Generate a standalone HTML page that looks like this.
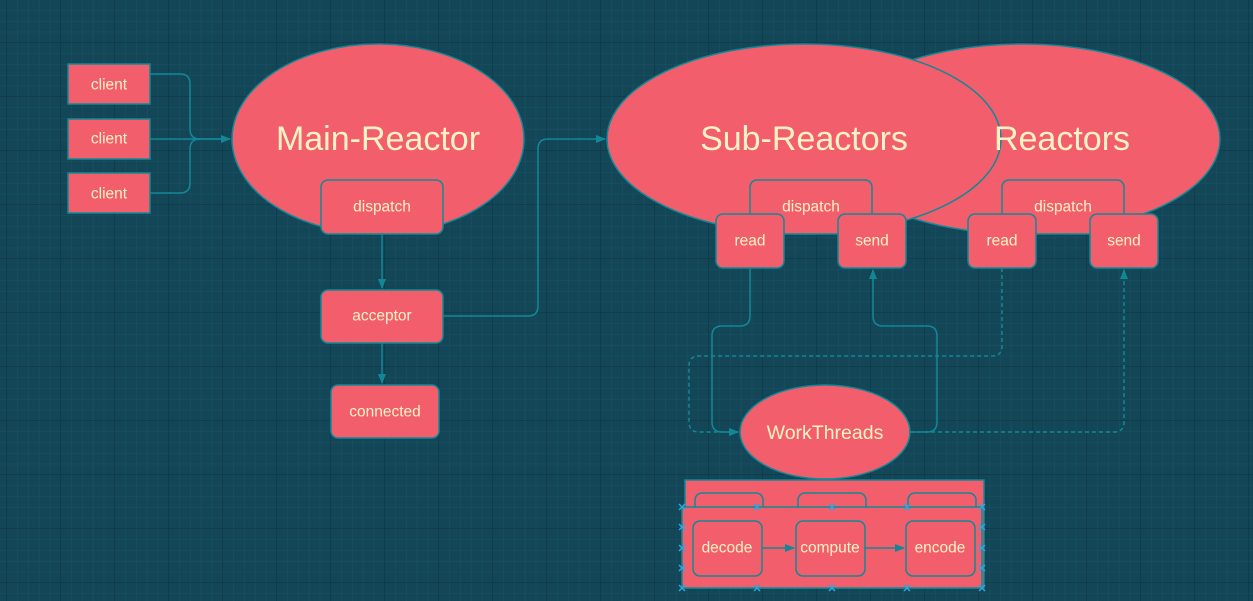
<!DOCTYPE html>
<html><head><meta charset="utf-8"><style>
html,body{margin:0;padding:0;background:#134758;}
svg{display:block}
text{font-family:"Liberation Sans",sans-serif;fill:#fdf3c4;text-anchor:middle;dominant-baseline:central}
</style></head><body>
<svg width="1253" height="601" viewBox="0 0 1253 601" xmlns="http://www.w3.org/2000/svg">
<defs>
<pattern id="mi" width="10.8" height="10.8" patternUnits="userSpaceOnUse" x="7" y="43">
<path d="M10.8 0V10.8H0" fill="none" stroke="#1a5265" stroke-width="1"/></pattern>
<pattern id="ma" width="54" height="54" patternUnits="userSpaceOnUse" x="7" y="43">
<path d="M54 0V54H0" fill="none" stroke="#0d3646" stroke-width="1.2"/></pattern>
<marker id="ar" markerWidth="10" markerHeight="10" refX="9" refY="5" orient="auto" markerUnits="userSpaceOnUse"><path d="M0 1L10 5L0 9z" fill="#128896"/></marker>
<path id="x" d="M-3 -3L3 3M-3 3L3 -3" stroke="#2aa6e0" stroke-width="1.5"/>
</defs>
<rect width="1253" height="601" fill="#134758"/>
<rect width="1253" height="601" fill="url(#mi)"/>
<rect width="1253" height="601" fill="url(#ma)"/>
<g fill="none" stroke="#128896" stroke-width="1.5">
<path d="M150 74H180Q190 74 190 84V129Q190 139 200 139H230" marker-end="url(#ar)"/>
<path d="M150 139H230"/>
<path d="M150 193H180Q190 193 190 183V149Q190 139 200 139"/>
<path d="M382 234V288" marker-end="url(#ar)"/>
<path d="M382 343V383" marker-end="url(#ar)"/>
<path d="M443 316H528Q538 316 538 306V149Q538 139 548 139H605" marker-end="url(#ar)"/>
<path d="M750 268V316Q750 326 740 326H722Q712 326 712 336V422Q712 432 722 432H738" marker-end="url(#ar)"/>
<path d="M910 432H927Q937 432 937 422V336Q937 326 927 326H883Q873 326 873 316V270" marker-end="url(#ar)"/>
<path d="M1002 268V346Q1002 356 992 356H699Q689 356 689 366V422Q689 432 699 432H738" stroke-dasharray="4 3" marker-end="url(#ar)"/>
<path d="M910 432H1114Q1124 432 1124 422V270" stroke-dasharray="4 3" marker-end="url(#ar)"/>
</g>
<g fill="#f25e6b" stroke="#128896" stroke-width="1.5">
<rect x="68" y="64" width="82" height="40"/><rect x="68" y="119" width="82" height="40"/><rect x="68" y="173" width="82" height="40"/>
<ellipse cx="378" cy="139" rx="146" ry="95"/>
<rect x="321" y="180" width="122" height="54" rx="7"/>
<rect x="321" y="290" width="122" height="53" rx="7"/>
<rect x="331" y="385" width="108" height="53" rx="7"/>
<ellipse cx="1022" cy="139" rx="198" ry="95"/>
<rect x="1002" y="180" width="122" height="54" rx="7"/>
<rect x="968" y="214" width="68" height="54" rx="7"/>
<rect x="1090" y="214" width="68" height="54" rx="7"/>
<ellipse cx="804" cy="139" rx="197" ry="95"/>
<rect x="750" y="180" width="122" height="54" rx="7"/>
<rect x="716" y="214" width="68" height="54" rx="7"/>
<rect x="838" y="214" width="68" height="54" rx="7"/>
<ellipse cx="825" cy="432" rx="85" ry="47"/>
<rect x="685" y="480" width="299" height="108"/>
<rect x="695" y="493" width="68" height="40" rx="7"/><rect x="798" y="493" width="68" height="40" rx="7"/><rect x="908" y="493" width="68" height="40" rx="7"/>
<rect x="682" y="507" width="300" height="81"/>
<rect x="693" y="521" width="69" height="55" rx="7"/>
<rect x="796" y="521" width="69" height="55" rx="7"/>
<rect x="906" y="521" width="69" height="55" rx="7"/>
</g>
<g fill="none" stroke="#128896" stroke-width="1.5">
<path d="M762 548H794" marker-end="url(#ar)"/><path d="M865 548H904" marker-end="url(#ar)"/>
</g>
<g>
<use href="#x" x="682" y="507"/><use href="#x" x="757" y="507"/><use href="#x" x="832" y="507"/><use href="#x" x="907" y="507"/><use href="#x" x="982" y="507"/>
<use href="#x" x="682" y="588"/><use href="#x" x="757" y="588"/><use href="#x" x="832" y="588"/><use href="#x" x="907" y="588"/><use href="#x" x="982" y="588"/>
<use href="#x" x="682" y="527"/><use href="#x" x="682" y="548"/><use href="#x" x="682" y="568"/>
<use href="#x" x="982" y="527"/><use href="#x" x="982" y="548"/><use href="#x" x="982" y="568"/>
</g>
<g font-size="15.5">
<text x="109" y="85">client</text><text x="109" y="139">client</text><text x="109" y="194">client</text>
<text x="382" y="207">dispatch</text><text x="382" y="316">acceptor</text><text x="385" y="412">connected</text>
<text x="811" y="207">dispatch</text><text x="1063" y="207">dispatch</text>
<text x="750" y="241">read</text><text x="872" y="241">send</text><text x="1002" y="241">read</text><text x="1124" y="241">send</text>
<text x="727" y="548">decode</text><text x="830" y="548">compute</text><text x="940" y="548">encode</text>
</g>
<text x="1062" y="139" font-size="34">Reactors</text>
<text x="378" y="139" font-size="34">Main-Reactor</text>
<text x="804" y="139" font-size="34">Sub-Reactors</text>
<text x="825" y="433" font-size="19.5">WorkThreads</text>
</svg>
</body></html>
